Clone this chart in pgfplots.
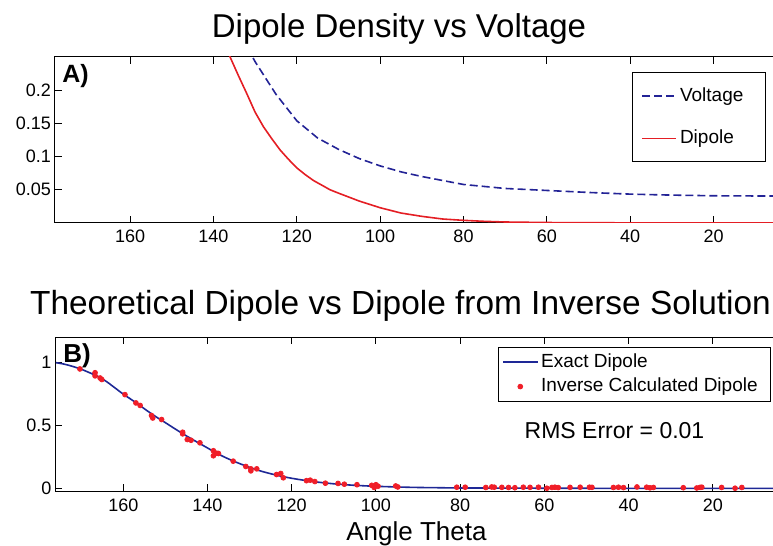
\documentclass[border=0pt]{standalone}
\usepackage{fontspec}
\setmainfont{Liberation Sans}
\usepackage{pgfplots}
\pgfplotsset{compat=1.18}

\definecolor{vblue}{RGB}{35,35,150}
\definecolor{dred}{RGB}{228,30,36}
\definecolor{eblue}{RGB}{30,40,150}
\definecolor{dotred}{RGB}{240,30,40}

\pgfplotsset{
  every axis/.append style={
    scale only axis,
    x dir=reverse,
    tick align=inside,
    major tick length=3.5pt,
    xtick pos=both, ytick pos=both,
    axis line style={black, line width=0.5pt},
    every tick/.style={black, line width=0.5pt},
    tick label style={font=\fontsize{9}{10}\selectfont},
    yticklabel style={xshift=1.5pt},
    /pgf/number format/assume math mode=true,
    legend cell align=left,
  }
}

\begin{document}
\begin{tikzpicture}

% panel A
\begin{axis}[
    at={(27.5pt,161.5pt)}, anchor=south west,
    width=371pt, height=83pt,
    xmin=0, xmax=178, ymin=0, ymax=0.25,
    xtick={20,40,...,160},
    ytick={0.05,0.1,0.15,0.2},
    yticklabels={0.05,0.1,0.15,0.2},
    legend style={at={(0.958,0.91)}, anchor=north east,
      font=\fontsize{9.5}{11}\selectfont,
      nodes={inner sep=1.5pt},
      row sep=10pt, inner xsep=4.5pt, inner ysep=6pt},
  ]
  \addplot[vblue, line width=0.8pt, dash pattern=on 4pt off 2pt,
    legend image code/.code={\draw[vblue, line width=0.8pt, dash pattern=on 4pt off 2pt] (0cm,0cm) -- (0.6cm,0cm);}] coordinates {
    (140,0.36) (135,0.30) (130,0.243) (125,0.194) (120,0.154) (115,0.128)
    (110,0.111) (105,0.097) (100,0.086) (95,0.077) (90,0.0700) (85,0.064)
    (80,0.058) (75,0.055) (70,0.052) (65,0.0505) (60,0.049) (55,0.0475)
    (50,0.046) (45,0.0447) (40,0.0435) (35,0.0427) (30,0.042) (25,0.0415)
    (20,0.041) (10,0.0407) (0,0.0405)
  };
  \addlegendentry{Voltage\rule{5pt}{0pt}}
  \addplot[dred, line width=0.8pt,
    legend image code/.code={\draw[dred, line width=0.8pt] (0cm,0cm) -- (0.6cm,0cm);}] coordinates {
    (140,0.31) (138,0.28) (136,0.25) (134,0.222) (132,0.195) (130,0.167)
    (128,0.145) (126,0.127) (124,0.110) (122,0.096) (120,0.083) (118,0.073)
    (116,0.064) (114,0.057) (112,0.050) (110,0.045) (105,0.033) (100,0.023)
    (95,0.015) (90,0.010) (85,0.006) (80,0.004) (75,0.0025) (70,0.0015)
    (60,0.0007) (40,0.0002) (20,0.0001) (0,0)
  };
  \addlegendentry{Dipole}
\end{axis}

% panel B
\begin{axis}[
    at={(27.75pt,27.25pt)}, anchor=south west,
    width=370.75pt, height=77pt,
    xmin=0, xmax=176.1, ymin=-0.024, ymax=1.2,
    xtick={20,40,...,160},
    ytick={0,0.5,1},
    yticklabels={0,0.5,1},
    legend style={at={(0.5968,0.938)}, anchor=north west,
      font=\fontsize{9.5}{11}\selectfont,
      nodes={inner sep=1.5pt},
      row sep=1pt, inner xsep=2pt, inner ysep=1.5pt},
  ]
  \addplot[eblue, line width=0.8pt, smooth] coordinates {
    (176,1.000) (174,0.988) (172,0.970) (170,0.948) (168,0.920) (166,0.890)
    (164,0.850) (162,0.800) (160,0.750) (158,0.705) (156,0.658) (154,0.610)
    (152,0.565) (150,0.523) (148,0.480) (146,0.438) (144,0.398) (142,0.360)
    (140,0.322) (138,0.284) (136,0.250) (134,0.220) (132,0.193) (130,0.168)
    (128,0.145) (126,0.126) (124,0.109) (122,0.094) (120,0.081) (118,0.070)
    (116,0.060) (114,0.051) (112,0.044) (110,0.037) (106,0.027) (102,0.020)
    (98,0.015) (94,0.011) (90,0.008) (85,0.006) (80,0.004) (70,0.003)
    (60,0.002) (50,0.0015) (40,0.001) (30,0.0008) (20,0.0005) (10,0.0003)
    (0,0.0002)
  };
  \addlegendentry{Exact Dipole}
  \addplot[only marks, mark=*, mark size=1.2pt, dotred, mark options={draw=dotred, fill=dotred}] coordinates {
    (176.2,1.0) (170.3,0.95) (166.7,0.92) (166.7,0.895) (165.5,0.878)
    (165.1,0.866) (159.6,0.746) (157.0,0.68) (156.0,0.66) (153.3,0.58)
    (153.0,0.56) (150.9,0.548) (145.9,0.447) (145.9,0.434) (144.8,0.389)
    (143.9,0.383) (141.8,0.363) (138.6,0.30) (138.6,0.26) (137.8,0.28)
    (137.4,0.278) (133.9,0.217) (130.9,0.175) (129.7,0.156) (129.7,0.14)
    (128.3,0.156) (123.6,0.111) (122.6,0.119) (122.0,0.085)
    (116.5,0.062) (115.6,0.066) (114.5,0.055) (112.0,0.042) (109.0,0.040)
    (107.5,0.034) (104.5,0.030) (101.0,0.025) (100.4,0.008) (100.0,0.030)
    (99.5,0.018) (95.3,0.020) (94.8,0.012)
    (80.8,0.010) (78.8,0.010) (73.9,0.008) (72.5,0.012) (71.9,0.010)
    (70.1,0.009) (68.5,0.008) (67.0,0.006) (65.0,0.010) (63.4,0.009)
    (61.4,0.010) (59.4,0.002) (58.2,0.008) (57.5,0.010) (56.7,0.007)
    (53.9,0.009) (51.5,0.010) (49.3,0.010) (48.7,0.009) (43.6,0.008)
    (42.4,0.010) (41.2,0.007) (38.0,0.012) (35.7,0.010) (34.9,0.005)
    (34.1,0.008) (27.0,0.006) (23.8,0.004) (23.0,0.009) (22.6,0.010)
    (17.9,0.008) (14.7,0.002) (13.1,0.008)
  };
  \addlegendentry{Inverse Calculated Dipole\rule{3pt}{0pt}}
\end{axis}

% titles and labels
\node[anchor=base, font=\fontsize{16.5}{18}\selectfont] at (199.5pt,254.2pt) {Dipole Density vs Voltage};
\node[anchor=base, font=\fontsize{16.7}{18}\selectfont] at (200.25pt,115.5pt) {Theoretical Dipole vs Dipole from Inverse Solution};
\node[anchor=base, font=\fontsize{13}{15}\selectfont] at (208.25pt,2.5pt) {Angle Theta};
\node[anchor=base west, inner sep=0pt, font=\fontsize{12.5}{14}\selectfont\bfseries] at (31pt,231.5pt) {A)};
\node[anchor=base west, inner sep=0pt, font=\fontsize{13}{15}\selectfont\bfseries] at (31.5pt,91.5pt) {B)};
\node[anchor=base, font=\fontsize{11.5}{13}\selectfont] at (307.25pt,53.5pt) {RMS Error = 0.01};

\pgfresetboundingbox
\useasboundingbox (0,0) rectangle (386.5pt,273pt);
\end{tikzpicture}
\end{document}
